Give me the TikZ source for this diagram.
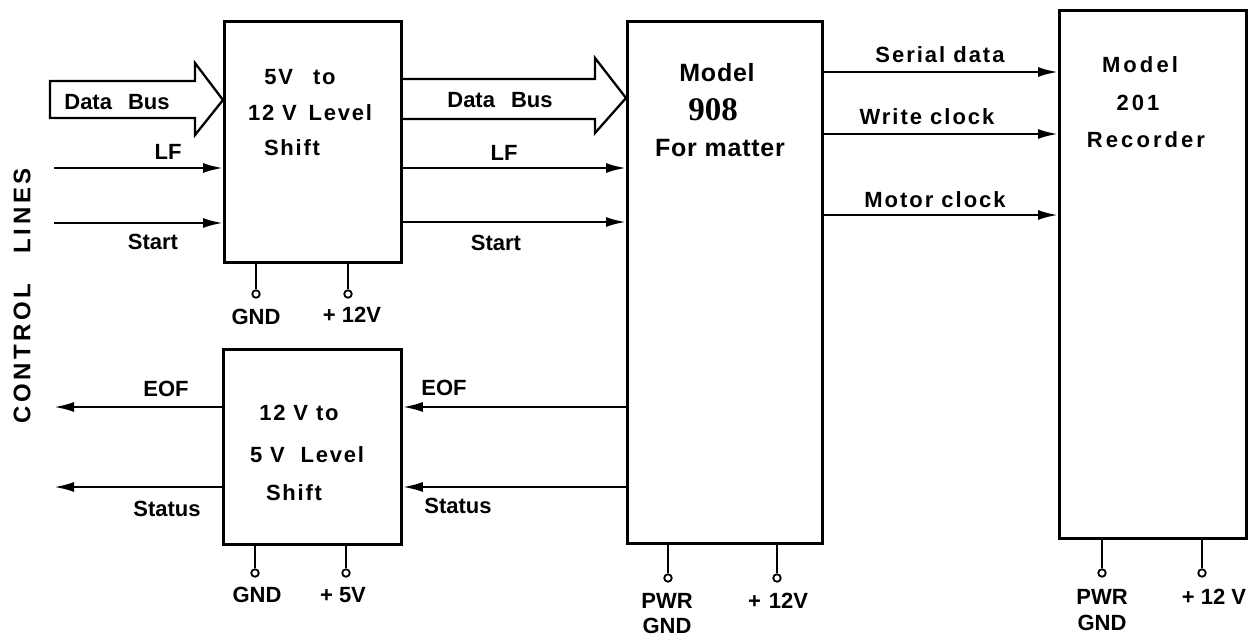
\documentclass[tikz,border=0pt]{standalone}
\usepackage{fontspec}
\setmainfont{Liberation Sans}
\newfontfamily\serfont{Liberation Serif}
\usetikzlibrary{arrows.meta}
\begin{document}
\begin{tikzpicture}[x=1pt,y=-1pt,
  box/.style={draw, line width=2.8pt, anchor=north west, inner sep=0pt},
  wire/.style={line width=2.4pt},
  sig/.style={line width=2.4pt, -{Latex[length=20pt,width=10pt]}},
  bus/.style={line width=2.3pt, line join=miter},
  pinc/.style={circle, draw, fill=white, line width=1.8pt, minimum size=7.5pt, inner sep=0pt},
  lbl/.style={font=\bfseries\fontsize{22}{24}\selectfont, inner sep=0pt, text height=16pt, text depth=0pt},
  slbl/.style={font=\bfseries\fontsize{22}{24}\selectfont\addfontfeature{LetterSpace=9}, inner sep=0pt, text height=16pt, text depth=0pt},
  boxt/.style={font=\bfseries\fontsize{22}{24}\selectfont\addfontfeature{LetterSpace=8}, inner sep=0pt, text height=16pt, text depth=0pt},
  rect/.style={font=\bfseries\fontsize{22}{24}\selectfont\addfontfeature{LetterSpace=14}, inner sep=0pt, text height=16pt, text depth=0pt},
  fmt/.style={font=\bfseries\fontsize{25}{28}\selectfont\addfontfeature{LetterSpace=3}, inner sep=0pt, text height=18pt, text depth=0pt}
]
\useasboundingbox (0,0) rectangle (1255,636);

% boxes
\node[box, minimum width=177pt, minimum height=241pt] (A) at (223,20) {};
\node[box, minimum width=178pt, minimum height=195pt] (D) at (222,348) {};
\node[box, minimum width=195pt, minimum height=522pt] (F) at (626,20) {};
\node[box, minimum width=187pt, minimum height=528pt] (R) at (1058,9) {};

% box texts
\node[boxt] (a1) at (300,77) {5V\hspace{20pt}to};
\node[boxt] (a2) at (310,113) {12 V\hspace{4pt} Level};
\node[boxt] (a3) at (292,148) {Shift};
\node[boxt] (d1) at (299,412) {12 V to};
\node[boxt] (d2) at (307,454) {5 V\hspace{8pt} Level};
\node[boxt] (d3) at (294,492) {Shift};
\node[fmt] (f1) at (717,73) {Model};
\node[font=\serfont\bfseries\fontsize{33}{35}\selectfont, inner sep=0pt, text height=22pt, text depth=0pt] (f2) at (713,110) {908};
\node[fmt] (f3) at (720,148) {For matter};
\node[rect] (r1) at (1140,65) {Model};
\node[rect] (r2) at (1138,103) {201};
\node[rect] (r3) at (1146,140) {Recorder};

% control lines label
\node[font=\bfseries\fontsize{24}{26}\selectfont\addfontfeature{LetterSpace=15}, inner sep=0pt, rotate=90] (cl) at (22,296) {CONTROL\hspace{30pt}LINES};

% data bus arrows
\draw[bus] (50,81) -- (195,81) -- (195,63) -- (A.west |- 0,100) -- (195,135) -- (195,118) -- (50,118) -- cycle;
\draw[bus] (A.east |- 0,79) -- (595,79) -- (595,58) -- (F.west |- 0,98) -- (595,133) -- (595,119) -- (A.east |- 0,119);
\node[lbl] (db1) at (117,102) {Data\hspace{16pt}Bus};
\node[lbl] (db2) at (500,100) {Data\hspace{16pt}Bus};

% free ends
\coordinate (lfin) at (54,168);
\coordinate (stin) at (54,223);
\coordinate (eofout) at (54,407);
\coordinate (stout) at (54,487);

% inputs to A
\draw[sig] (lfin) -- (lfin -| A.west);
\draw[sig] (stin) -- (stin -| A.west);
\node[lbl] (llf1) at (168,152) {LF};
\node[lbl] (lst1) at (153,242) {Start};

% A to F
\draw[sig] (A.east |- 0,168) -- (F.west |- 0,168);
\draw[sig] (A.east |- 0,222) -- (F.west |- 0,222);
\node[lbl] (llf2) at (504,153) {LF};
\node[lbl] (lst2) at (496,243) {Start};

% F to D, D out
\draw[sig] (F.west |- 0,407) -- (D.east |- 0,407);
\draw[sig] (F.west |- 0,487) -- (D.east |- 0,487);
\draw[sig] (D.west |- eofout) -- (eofout);
\draw[sig] (D.west |- stout) -- (stout);
\node[lbl] (leof1) at (166,388) {EOF};
\node[lbl] (lsta1) at (167,508) {Status};
\node[lbl] (leof2) at (444,387) {EOF};
\node[lbl] (lsta2) at (458,505) {Status};

% F to R
\draw[sig] (F.east |- 0,72) -- (R.west |- 0,72);
\draw[sig] (F.east |- 0,134) -- (R.west |- 0,134);
\draw[sig] (F.east |- 0,215) -- (R.west |- 0,215);
\node[slbl] (lser) at (940,55) {Serial data};
\node[slbl] (lwc) at (927,117) {Write clock};
\node[slbl] (lmc) at (935,200) {Motor clock};

% pins
\node[pinc] (pA1) at (256,294) {};
\node[pinc] (pA2) at (348,294) {};
\node[pinc] (pD1) at (255,573) {};
\node[pinc] (pD2) at (346,573) {};
\node[pinc] (pF1) at (668,578) {};
\node[pinc] (pF2) at (777,578) {};
\node[pinc] (pR1) at (1102,573) {};
\node[pinc] (pR2) at (1202,573) {};
\draw[wire] (pA1) -- (pA1 |- A.south);
\draw[wire] (pA2) -- (pA2 |- A.south);
\draw[wire] (pD1) -- (pD1 |- D.south);
\draw[wire] (pD2) -- (pD2 |- D.south);
\draw[wire] (pF1) -- (pF1 |- F.south);
\draw[wire] (pF2) -- (pF2 |- F.south);
\draw[wire] (pR1) -- (pR1 |- R.south);
\draw[wire] (pR2) -- (pR2 |- R.south);

% pin labels
\node[lbl] (gA) at (256,316) {GND};
\node[lbl] (vA) at (352,314) {+ 12V};
\node[lbl] (gD) at (257,594) {GND};
\node[lbl] (vD) at (343,594) {+ 5V};
\node[lbl] (gF1) at (667,600) {PWR};
\node[lbl] (gF2) at (667,625) {GND};
\node[lbl] (vF) at (778,600) {+\hspace{8pt}12V};
\node[lbl] (gR1) at (1102,596) {PWR};
\node[lbl] (gR2) at (1102,622) {GND};
\node[lbl] (vR) at (1214,596) {+ 12 V};
\end{tikzpicture}
\end{document}
